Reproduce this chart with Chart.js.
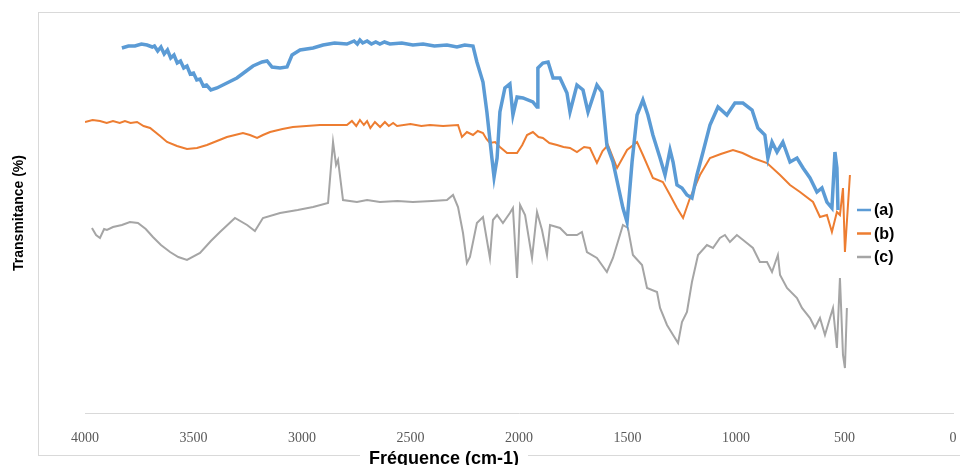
<!DOCTYPE html>
<html>
<head>
<meta charset="utf-8">
<script src="https://cdn.jsdelivr.net/npm/chart.js@4/dist/chart.umd.min.js"></script>
<style>
  html, body { margin: 0; padding: 0; background: #fff; }
</style>
</head>
<body>
<canvas id="irChart" width="960" height="465"></canvas>
<script>
// IR spectra, three samples, wavenumber (cm-1) vs transmittance (offset)
const seriesNames = ['(a)', '(b)', '(c)'];
const seriesColors = ['#5B9BD5', '#ED7D31', '#A5A5A5'];
const seriesWidths = [3.5, 2, 2];
const xTicks = [4000, 3500, 3000, 2500, 2000, 1500, 1000, 500, 0];

const waveA = [
  3830, 3800, 3770, 3740, 3714, 3690, 3680, 3665, 3650, 3635,
  3620, 3605, 3590, 3575, 3560, 3545, 3530, 3515, 3500, 3485,
  3470, 3455, 3440, 3420, 3392, 3346, 3300, 3263, 3226, 3184,
  3161, 3138, 3101, 3069, 3046, 3009, 2949, 2903, 2850, 2793,
  2760, 2745, 2733, 2720, 2700, 2680, 2660, 2641, 2620, 2595,
  2540, 2489, 2442, 2390, 2332, 2286, 2250, 2212, 2194, 2166,
  2148, 2125, 2115, 2101, 2088, 2065, 2042, 2028, 2009, 1982,
  1936, 1917, 1913, 1890, 1866, 1843, 1811, 1779, 1765, 1733,
  1705, 1682, 1641, 1618, 1595, 1567, 1544, 1521, 1502, 1479,
  1456, 1429, 1406, 1383, 1350, 1327, 1304, 1290, 1272, 1249,
  1226, 1203, 1180, 1152, 1120, 1083, 1042, 1005, 968, 926,
  899, 867, 853, 834, 811, 784, 751, 719, 691, 659,
  627, 604, 581, 558, 544, 535, 530
];
const transA = [
  91.25, 91.75, 91.75, 92.25, 92, 91.5, 91.75, 90.5, 91.5, 89.75,
  90.75, 88.75, 89.5, 87.5, 88, 86.25, 86.75, 84.75, 85, 83.25,
  83.5, 81.75, 82, 80.75, 81.25, 82.5, 83.75, 85.25, 86.75, 87.75,
  88, 86.5, 86.25, 86.5, 89.5, 90.75, 91.25, 92, 92.5, 92.25,
  93, 92.25, 93.25, 92.5, 93, 92.25, 92.75, 92.25, 92.75, 92.25,
  92.5, 92, 92.25, 91.75, 92, 91.5, 92, 91.75, 87.75, 82.75,
  75.25, 63.75, 59, 63.75, 75.25, 81.25, 82.25, 74.5, 79, 78.75,
  77.75, 76.5, 86.25, 87.5, 87.75, 83.75, 83.75, 80, 75.25, 82,
  80.75, 75.25, 82, 80.25, 67, 62.75, 57, 51.25, 47.75, 62.75,
  74.5, 78.25, 74.5, 69.5, 63.75, 59.5, 65.75, 62.75, 57, 56.25,
  54.5, 53.75, 59.5, 65.25, 72, 76.5, 74.5, 77.5, 77.5, 75.75,
  71.25, 69.5, 63.75, 67.75, 65.25, 67.75, 62.75, 63.75, 61.25, 58.75,
  55.25, 56.25, 52.75, 51.25, 65.25, 61.25, 50.75
];

const waveB = [
  4000, 3965, 3931, 3900, 3871, 3840, 3816, 3790, 3760, 3730,
  3700, 3654, 3622, 3576, 3530, 3484, 3438, 3392, 3346, 3272,
  3240, 3207, 3180, 3147, 3090, 3042, 2980, 2917, 2860, 2793,
  2770, 2750, 2733, 2715, 2700, 2685, 2664, 2640, 2618, 2600,
  2580, 2562, 2500, 2450, 2410, 2350, 2281, 2263, 2240, 2212,
  2190, 2166, 2150, 2134, 2110, 2088, 2055, 2009, 1985, 1963,
  1936, 1910, 1890, 1860, 1825, 1795, 1765, 1733, 1700, 1673,
  1641, 1615, 1590, 1548, 1502, 1456, 1429, 1383, 1337, 1304,
  1272, 1244, 1212, 1166, 1120, 1070, 1014, 970, 922, 857,
  797, 751, 705, 645, 613, 581, 558, 535, 521, 507,
  498, 475
];
const transB = [
  72.75, 73.25, 73, 72.5, 73, 72.5, 73, 72.5, 72.75, 71.75,
  71.25, 69.25, 67.75, 66.75, 66, 66.25, 67, 68, 69, 70,
  69.5, 68.75, 69.5, 70.25, 71, 71.5, 71.75, 72, 72, 72,
  73, 71.75, 73.25, 72, 73, 71.25, 72.75, 71.5, 72.75, 71.75,
  72.5, 71.75, 72.25, 71.75, 72, 71.75, 72, 69, 70.25, 69.5,
  70.5, 70, 68.5, 67.5, 67.75, 66.5, 65, 65, 67, 69.5,
  70.25, 69, 68.75, 67.5, 67, 66.5, 66.25, 65.25, 66.5, 66.25,
  62.5, 65.5, 67, 61.25, 65.75, 67.75, 64.5, 58.75, 57.75, 54.5,
  51.25, 48.75, 53.75, 59.5, 63.75, 64.75, 65.75, 65, 63.75, 62.5,
  59.5, 57, 55.25, 52.75, 49, 49.5, 45.25, 50.25, 49.5, 56.25,
  40.25, 59.5
];

const waveC = [
  3968, 3949, 3931, 3912, 3899, 3871, 3830, 3793, 3756, 3720,
  3687, 3650, 3608, 3570, 3530, 3470, 3420, 3378, 3309, 3253,
  3217, 3180, 3101, 3020, 2949, 2880, 2857, 2843, 2834, 2811,
  2747, 2700, 2641, 2560, 2489, 2400, 2332, 2304, 2281, 2258,
  2240, 2226, 2194, 2166, 2148, 2134, 2120, 2101, 2074, 2042,
  2028, 2009, 1995, 1972, 1940, 1917, 1894, 1871, 1857, 1811,
  1779, 1733, 1710, 1687, 1641, 1595, 1567, 1521, 1498, 1475,
  1433, 1410, 1364, 1350, 1318, 1290, 1267, 1249, 1226, 1203,
  1175, 1134, 1106, 1074, 1051, 1028, 996, 950, 922, 890,
  857, 834, 807, 797, 765, 719, 696, 659, 636, 613,
  590, 567, 553, 535, 521, 507, 498, 489
];
const transC = [
  46.25, 44.5, 43.75, 46, 45.75, 46.5, 47, 47.75, 47.5, 46,
  44, 42, 40.25, 39, 38.25, 40, 43, 45.25, 48.75, 47,
  45.5, 48.75, 50, 50.75, 51.5, 52.5, 67.75, 62, 63.25, 53.25,
  52.75, 53.25, 52.75, 53, 52.75, 53, 53.25, 54.5, 51.5, 45,
  37.5, 39, 47.5, 49, 43.25, 38.75, 48.25, 49.5, 47.5, 50,
  51.25, 33.75, 52, 49.5, 38.75, 50.25, 45.75, 39.5, 47, 46.25,
  44.5, 44.5, 45.25, 40.25, 38.75, 35.25, 38.75, 47, 46.25, 39.5,
  37, 31.25, 30.25, 26.25, 22, 19.5, 17.5, 22.75, 25.25, 32.75,
  39.5, 42, 41.25, 43.75, 44.5, 42.75, 44.5, 42.5, 41.25, 37.75,
  37.75, 35.25, 39.5, 34.5, 31.25, 28.75, 26.25, 23.75, 21.25, 23.75,
  19.5, 23.75, 26.25, 16.25, 33.75, 14.5, 11.25, 26.25
];

function toPoints(xs, ys) {
  return xs.map((x, i) => ({ x: x, y: ys[i] }));
}

const allWaves = [waveA, waveB, waveC];
const allTrans = [transA, transB, transC];

const datasets = seriesNames.map((name, i) => ({
  label: name,
  data: toPoints(allWaves[i], allTrans[i]),
  borderColor: seriesColors[i],
  backgroundColor: seriesColors[i],
  borderWidth: seriesWidths[i],
  pointRadius: 0,
  tension: 0,
  fill: false
}));

// outer frame, x-axis title sitting on the frame, legend inside the plot
const decorations = {
  id: 'decorations',
  beforeDraw(chart) {
    const c = chart.ctx;
    c.save();
    c.fillStyle = '#fff';
    c.fillRect(0, 0, chart.width, chart.height);
    c.strokeStyle = '#d9d9d9';
    c.lineWidth = 1;
    c.strokeRect(38.5, 12.5, 940, 443);
    c.restore();
  },
  afterDraw(chart) {
    const c = chart.ctx;
    c.save();
    // x title
    const title = 'Fréquence (cm-1)';
    c.font = 'bold 18px "Liberation Sans", Arial, sans-serif';
    const w = c.measureText(title).width;
    c.fillStyle = '#fff';
    c.fillRect(444 - w / 2 - 9, 446, w + 18, 19);
    c.fillStyle = '#000';
    c.textAlign = 'center';
    c.textBaseline = 'middle';
    c.fillText(title, 444, 459);

    // legend
    c.font = 'bold 16px "Liberation Sans", Arial, sans-serif';
    c.textAlign = 'left';
    chart.data.datasets.forEach((ds, i) => {
      const y = 210 + i * 23.5;
      c.strokeStyle = ds.borderColor;
      c.lineWidth = 2.5;
      c.beginPath();
      c.moveTo(857, y);
      c.lineTo(871, y);
      c.stroke();
      c.fillStyle = '#000';
      c.fillText(ds.label, 874, y + 1);
    });
    c.restore();
  }
};

new Chart(document.getElementById('irChart'), {
  type: 'line',
  data: { datasets: datasets },
  plugins: [decorations],
  options: {
    responsive: false,
    animation: false,
    layout: { padding: { left: 7, right: 7, top: 13, bottom: 0 } },
    plugins: {
      legend: { display: false },
      tooltip: { enabled: false }
    },
    scales: {
      x: {
        type: 'linear',
        reverse: true,
        min: 0,
        max: 4000,
        afterBuildTicks: scale => { scale.ticks = xTicks.map(v => ({ value: v })); },
        afterFit: scale => {
          scale.height = 52;
          scale.paddingLeft = 0;
          scale.paddingRight = 0;
        },
        grid: { display: false, drawTicks: false },
        border: { display: true, color: '#d9d9d9', width: 1 },
        ticks: {
          callback: v => String(v),
          color: '#595959',
          font: { family: '"Liberation Serif", "Times New Roman", serif', size: 14 },
          padding: 17,
          maxRotation: 0,
          autoSkip: false
        }
      },
      y: {
        min: 0,
        max: 100,
        afterFit: scale => { scale.width = 78; },
        grid: { display: false, drawTicks: false },
        border: { display: false },
        ticks: { display: false },
        title: {
          display: true,
          text: 'Transmitance (%)',
          color: '#000',
          font: { family: '"Liberation Sans", Arial, sans-serif', size: 14, weight: 'bold' }
        }
      }
    }
  }
});
</script>
</body>
</html>
